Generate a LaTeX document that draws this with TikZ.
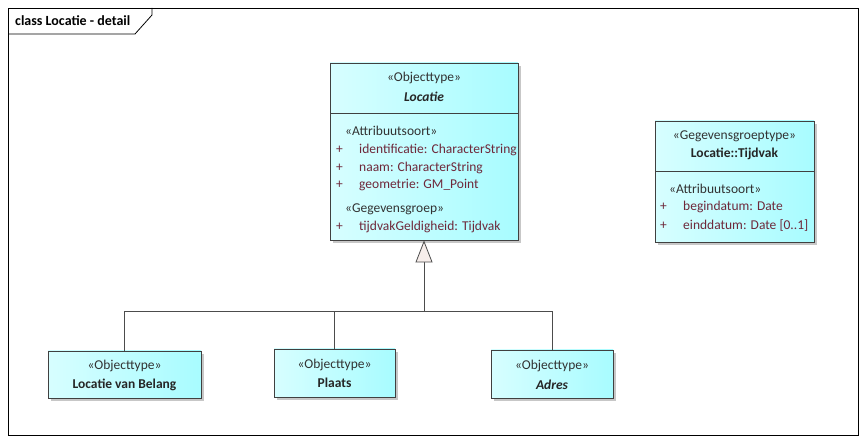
\documentclass[tikz,border=0pt]{standalone}
\usepackage{fontspec}
\setmainfont{Carlito}
\usetikzlibrary{arrows.meta,shadows}
\definecolor{clsfill}{RGB}{168,252,255}
\definecolor{clslight}{RGB}{215,254,255}
\definecolor{clsline}{RGB}{64,64,64}
\definecolor{attrcol}{RGB}{110,40,58}
\definecolor{stereocol}{RGB}{50,50,50}
\definecolor{genfill}{RGB}{247,238,235}
\begin{document}
\begin{tikzpicture}[x=1pt,y=-1pt,
  cls/.style={draw=clsline, line width=0.9pt, left color=clslight, right color=clsfill, rectangle, inner sep=0pt,
    drop shadow={shadow xshift=3pt, shadow yshift=-3pt, fill=black!22, opacity=1}},
  stereo/.style={inner sep=0pt, font=\fontsize{13.5}{15}\selectfont, text=stereocol},
  cname/.style={inner sep=0pt, font=\fontsize{13.5}{15}\selectfont\bfseries, text=black!85},
  attr/.style={inner sep=0pt, anchor=west, font=\fontsize{13.5}{15}\selectfont, text=attrcol},
  conn/.style={draw=black!70, line width=0.8pt},
  gen/.style={conn, -{Triangle[open, length=22pt, width=17pt, fill=genfill]}}]
\useasboundingbox (0,0) rectangle (867,443);
% frame
\draw[line width=0.8pt] (8,8) rectangle (858,435);
\draw[line width=0.8pt] (8,34) -- (135,34) -- (152,15) -- (152,8);
\node[inner sep=0pt, anchor=west, font=\fontsize{14}{16}\selectfont\bfseries] (title) at (15,21) {class Locatie - detail};

% Locatie
\node[cls, minimum width=188pt, minimum height=177pt] (loc) at (424,151.5) {};
\draw[draw=clsline, line width=0.9pt] (330,113) -- (518,113);
\node[stereo] (locst) at (424,78) {«Objecttype»};
\node[cname] (locnm) at (424,97) {\itshape Locatie};
\node[stereo, anchor=west] (locas) at (345,131) {«Attribuutsoort»};
\node[attr] (p1) at (336,150) {+};
\node[attr] (a1) at (359,150) {identificatie: CharacterString};
\node[attr] (p2) at (336,168) {+};
\node[attr] (a2) at (359,168) {naam: CharacterString};
\node[attr] (p3) at (336,185) {+};
\node[attr] (a3) at (359,185) {geometrie: GM\_Point};
\node[stereo, anchor=west] (locgg) at (345,209) {«Gegevensgroep»};
\node[attr] (p4) at (336,227) {+};
\node[attr] (a4) at (359,227) {tijdvakGeldigheid: Tijdvak};

% Locatie::Tijdvak
\node[cls, minimum width=159pt, minimum height=121pt] (tijd) at (734.5,181.5) {};
\draw[draw=clsline, line width=0.9pt] (655,171) -- (814,171);
\node[stereo] (tijdst) at (734.5,136) {«Gegevensgroeptype»};
\node[cname] (tijdnm) at (734.5,154) {Locatie::Tijdvak};
\node[stereo, anchor=west] (tijdas) at (669,189) {«Attribuutsoort»};
\node[attr] (p5) at (660,207) {+};
\node[attr] (a5) at (683,207) {begindatum: Date};
\node[attr] (p6) at (660,226) {+};
\node[attr] (a6) at (683,226) {einddatum: Date [0..1]};

% subtypes
\node[cls, minimum width=153pt, minimum height=47pt] (lvb) at (124.5,374.5) {};
\node[stereo] (lvbst) at (124.5,366) {«Objecttype»};
\node[cname] (lvbnm) at (124.5,385) {Locatie van Belang};
\node[cls, minimum width=121pt, minimum height=48pt] (plaats) at (334.5,373) {};
\node[stereo] (plaatsst) at (334.5,365) {«Objecttype»};
\node[cname] (plaatsnm) at (334.5,383) {Plaats};
\node[cls, minimum width=122pt, minimum height=48pt] (adres) at (552,374) {};
\node[stereo] (adresst) at (552,366) {«Objecttype»};
\node[cname] (adresnm) at (552,385) {\itshape Adres};

% generalisation
\coordinate (j) at (424,311);
\draw[conn] (lvb.north) |- (adres.north |- j) -- (adres.north);
\draw[conn] (plaats.north) -- (plaats.north |- j);
\draw[gen] (j) -- (loc.south);
\end{tikzpicture}
\end{document}
